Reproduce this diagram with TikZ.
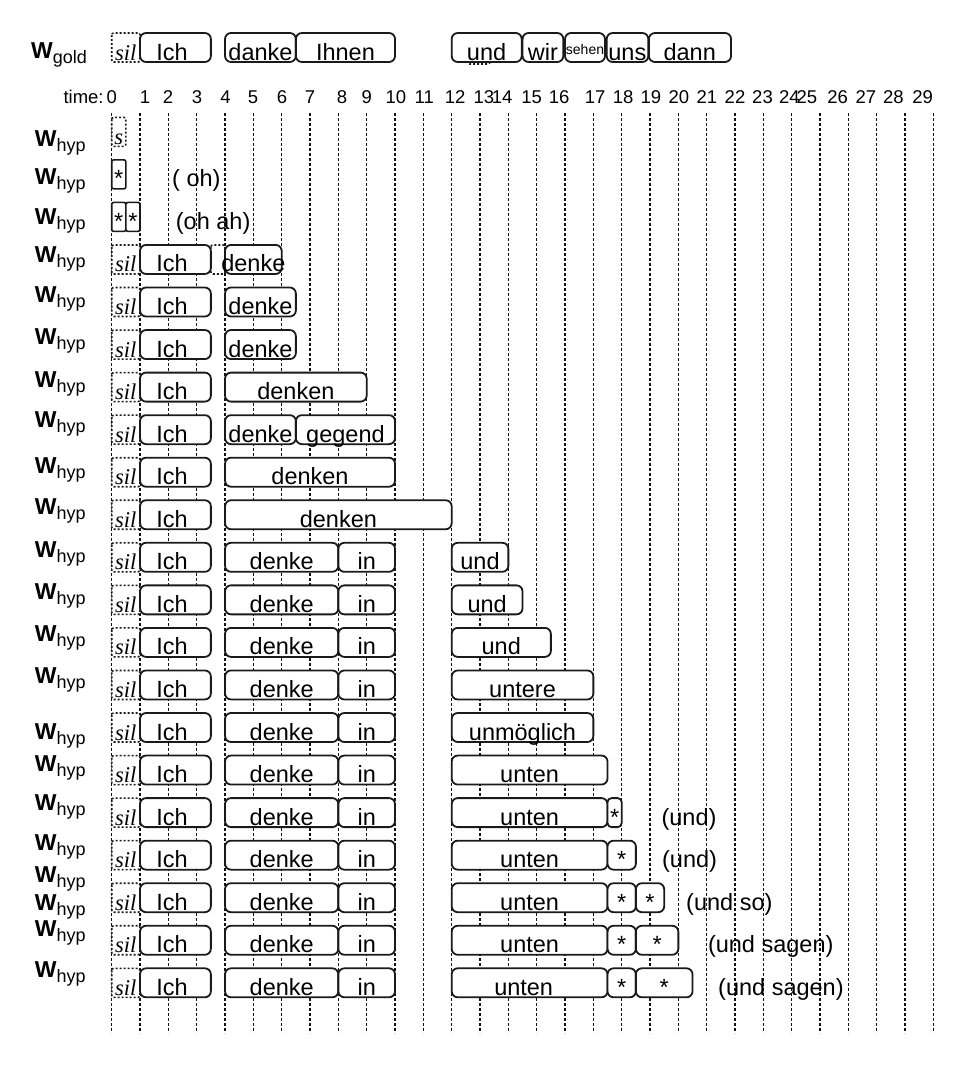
\documentclass[tikz,border=0pt]{standalone}
\usepackage{fontspec}
\setmainfont{Liberation Sans}
\newfontfamily\silfont{Liberation Serif}
\definecolor{BoxLine}{HTML}{1A1A1A}
\definecolor{GridLine}{HTML}{111111}

\begin{document}
\begin{tikzpicture}[
    x=28.333pt, y=-1pt,
    wbox/.style={draw=BoxLine, line width=1.8pt, fill=white, rounded corners=6pt},
    sbox/.style={draw=BoxLine, line width=1.6pt, fill=white, rounded corners=2pt},
    silbox/.style={draw=BoxLine, line width=1.6pt, fill=white, rounded corners=2pt, dash pattern=on 2pt off 2pt},
    gridline/.style={draw=GridLine, line width=1.2pt, dash pattern=on 3pt off 2pt},
    word/.style={anchor=base, inner sep=0pt, font=\fontsize{23.5}{28}\selectfont},
    sil/.style={anchor=base, inner sep=0pt, font=\silfont\itshape\fontsize{22.5}{26}\selectfont},
    note/.style={anchor=base west, inner sep=0pt, font=\fontsize{23.5}{28}\selectfont},
    tlab/.style={anchor=base, inner sep=0pt, font=\fontsize{18.5}{22}\selectfont},
    wlab/.style={anchor=base west, inner sep=0pt, font=\fontsize{23}{27}\selectfont},
    hrow/.style={shift={(0,#1)}}
  ]
  \useasboundingbox (-3.9424,0) rectangle (30.2947,1076);

  % time grid
  \foreach \t in {0,...,29}
    \draw[gridline] (\t,113) -- (\t,1033);

  % row labels
  \node[wlab] (wgold) at (-2.85,58.3) {\textbf{W}\raisebox{-5pt}{\fontsize{18}{20}\selectfont gold}};
  \foreach \y [count=\i] in {146.3,184.2,224.8,262.5,302.5,344.5,387.5,427.5,473,514.5,557.3,599.5,641.3,683.3,739.3,771.5,810.5,850,882.3,910.5,936,977.3}
    \node[wlab] (whyp\i) at (-2.72,\y) {\textbf{W}\raisebox{-5pt}{\fontsize{18}{20}\selectfont hyp}};

  % time axis
  \node[tlab, anchor=base west] (ttitle) at (-1.708,103.3) {time:};
  \foreach \n/\t in {0/0, 1/1.18, 2/1.99, 3/3.01, 4/4.02, 5/4.99, 6/6.01, 7/7.0, 8/8.13, 9/9.0,
                     10/10.03, 11/11.03, 12/12.12, 13/13.14, 14/13.78, 15/14.82, 16/15.79, 17/17.06,
                     18/18.05, 19/19.03, 20/20.02, 21/21.01, 22/22.0, 23/22.97, 24/23.92, 25/24.54,
                     26/25.62, 27/26.62, 28/27.59, 29/28.62}
    \node[tlab] (t\n) at (\t,103.3) {\n};

  % gold transcript
  \begin{scope}[hrow=33]
    \draw[silbox] (12.55,10) rectangle (13.35,31);
    \draw[silbox] (0,0) rectangle (1,29);
    \node[sil] (gsil) at (0.5,27) {sil};
    \foreach \a/\b/\c/\w [count=\i] in {1/3.5/2.13/Ich, 4/6.5/5.25/danke, 6.5/10/8.25/Ihnen, 12/14.47/13.23/und,
                                        14.5/15.94/15.22/wir, 17.47/18.94/18.2/uns, 18.96/21.86/20.4/dann}
    {
      \draw[wbox] (\a,0) rectangle (\b,29);
      \node[word] (g\i) at (\c,27) {\w};
    }
    \draw[wbox] (16,0) rectangle (17.41,29);
    \node[word, font=\fontsize{14}{16}\selectfont] (gsehen) at (16.705,21) {sehen};
  \end{scope}

  % hypotheses
  \begin{scope}[hrow=117.3]
    \draw[silbox] (0,0) rectangle (0.5,29);
    \node[sil] (r1s) at (0.25,27) {s};
  \end{scope}
  \begin{scope}[hrow=159.85]
    \draw[sbox] (0,0) rectangle (0.5,29);
    \node[word] (r2w1) at (0.25,27) {*};
    \node[note] (r2n) at (2.127,27) {( oh)};
  \end{scope}
  \begin{scope}[hrow=202.4]
    \draw[sbox] (0,0) rectangle (0.5,29);
    \draw[sbox] (0.5,0) rectangle (1,29);
    \node[word] (r3w1) at (0.25,27) {*};
    \node[word] (r3w2) at (0.75,27) {*};
    \node[note] (r3n) at (2.259,27) {(oh ah)};
  \end{scope}

  \foreach \y [count=\k from 4] in {244.95,287.5,330.05,372.6,415.15,457.7,500.25,542.8,585.35,
                                    627.9,670.45,713.0,755.55,798.1,840.65,883.2,925.75,968.3}
  {
    \draw[silbox] (0,\y) rectangle (1,{\y+29});
    \node[sil] (sil\k) at (0.5,{\y+27}) {sil};
    \draw[wbox] (1,\y) rectangle (3.5,{\y+29});
    \node[word] (ich\k) at (2.13,{\y+27}) {Ich};
  }

  \begin{scope}[hrow=244.95]
    \draw[silbox, fill=none] (3.5,0) rectangle (4,29);
    \draw[wbox] (4,0) rectangle (6,29);
    \node[word] (r4w1) at (5,27) {denke};
  \end{scope}
  \begin{scope}[hrow=287.5]
    \draw[wbox] (4,0) rectangle (6.5,29);
    \node[word] (r5w1) at (5.25,27) {denke};
  \end{scope}
  \begin{scope}[hrow=330.05]
    \draw[wbox] (4,0) rectangle (6.5,29);
    \node[word] (r6w1) at (5.25,27) {denke};
  \end{scope}
  \begin{scope}[hrow=372.6]
    \draw[wbox] (4,0) rectangle (9,29);
    \node[word] (r7w1) at (6.5,27) {denken};
  \end{scope}
  \begin{scope}[hrow=415.15]
    \foreach \a/\b/\w [count=\i] in {4/6.5/denke, 6.5/10/gegend}
    {
      \draw[wbox] (\a,0) rectangle (\b,29);
      \node[word] (r8w\i) at ({(\a+\b)/2},27) {\w};
    }
  \end{scope}
  \begin{scope}[hrow=457.7]
    \draw[wbox] (4,0) rectangle (10,29);
    \node[word] (r9w1) at (7,27) {denken};
  \end{scope}
  \begin{scope}[hrow=500.25]
    \draw[wbox] (4,0) rectangle (12,29);
    \node[word] (r10w1) at (8,27) {denken};
  \end{scope}

  % rows with "denke in"
  \foreach \y [count=\k from 11] in {542.8,585.35,627.9,670.45,713.0,755.55,798.1,840.65,883.2,925.75,968.3}
  {
    \draw[wbox] (4,\y) rectangle (8,{\y+29});
    \node[word] (den\k) at (6,{\y+27}) {denke};
    \draw[wbox] (8,\y) rectangle (10,{\y+29});
    \node[word] (in\k) at (9,{\y+27}) {in};
  }

  \begin{scope}[hrow=542.8]
    \draw[wbox] (12,0) rectangle (14,29);
    \node[word] (r11w1) at (13,27) {und};
  \end{scope}
  \begin{scope}[hrow=585.35]
    \draw[wbox] (12,0) rectangle (14.5,29);
    \node[word] (r12w1) at (13.25,27) {und};
  \end{scope}
  \begin{scope}[hrow=627.9]
    \draw[wbox] (12,0) rectangle (15.5,29);
    \node[word] (r13w1) at (13.75,27) {und};
  \end{scope}
  \begin{scope}[hrow=670.45]
    \draw[wbox] (12,0) rectangle (17,29);
    \node[word] (r14w1) at (14.5,27) {untere};
  \end{scope}
  \begin{scope}[hrow=713.0]
    \draw[wbox] (12,0) rectangle (17,29);
    \node[word] (r15w1) at (14.5,27) {unmöglich};
  \end{scope}

  % rows with "unten"
  \foreach \y [count=\k from 16] in {755.55,798.1,840.65,883.2,925.75}
  {
    \draw[wbox] (12,\y) rectangle (17.5,{\y+29});
    \node[word] (unt\k) at (14.75,{\y+27}) {unten};
  }
  \begin{scope}[hrow=968.3]
    \draw[wbox] (12,0) rectangle (17.5,29);
    \node[word] (unt21) at (14.54,27) {unten};
  \end{scope}

  \begin{scope}[hrow=798.1]
    \draw[wbox, rounded corners=4pt] (17.5,0) rectangle (18,29);
    \node[word] (r17w1) at (17.75,27) {*};
    \node[note] (r17n) at (19.4,27) {(und)};
  \end{scope}
  \begin{scope}[hrow=840.65]
    \draw[wbox] (17.5,0) rectangle (18.5,29);
    \node[word] (r18w1) at (18,27) {*};
    \node[note] (r18n) at (19.42,27) {(und)};
  \end{scope}
  \begin{scope}[hrow=883.2]
    \foreach \a/\b [count=\i] in {17.5/18.5, 18.5/19.5}
    {
      \draw[wbox] (\a,0) rectangle (\b,29);
      \node[word] (r19w\i) at ({(\a+\b)/2},27) {*};
    }
    \node[note] (r19n) at (20.27,27) {(und so)};
  \end{scope}
  \begin{scope}[hrow=925.75]
    \foreach \a/\b [count=\i] in {17.5/18.5, 18.5/20}
    {
      \draw[wbox] (\a,0) rectangle (\b,29);
      \node[word] (r20w\i) at ({(\a+\b)/2},27) {*};
    }
    \node[note] (r20n) at (21.04,27) {(und sagen)};
  \end{scope}
  \begin{scope}[hrow=968.3]
    \foreach \a/\b [count=\i] in {17.5/18.5, 18.5/20.5}
    {
      \draw[wbox] (\a,0) rectangle (\b,29);
      \node[word] (r21w\i) at ({(\a+\b)/2},27) {*};
    }
    \node[note] (r21n) at (21.4,27) {(und sagen)};
  \end{scope}
\end{tikzpicture}
\end{document}
